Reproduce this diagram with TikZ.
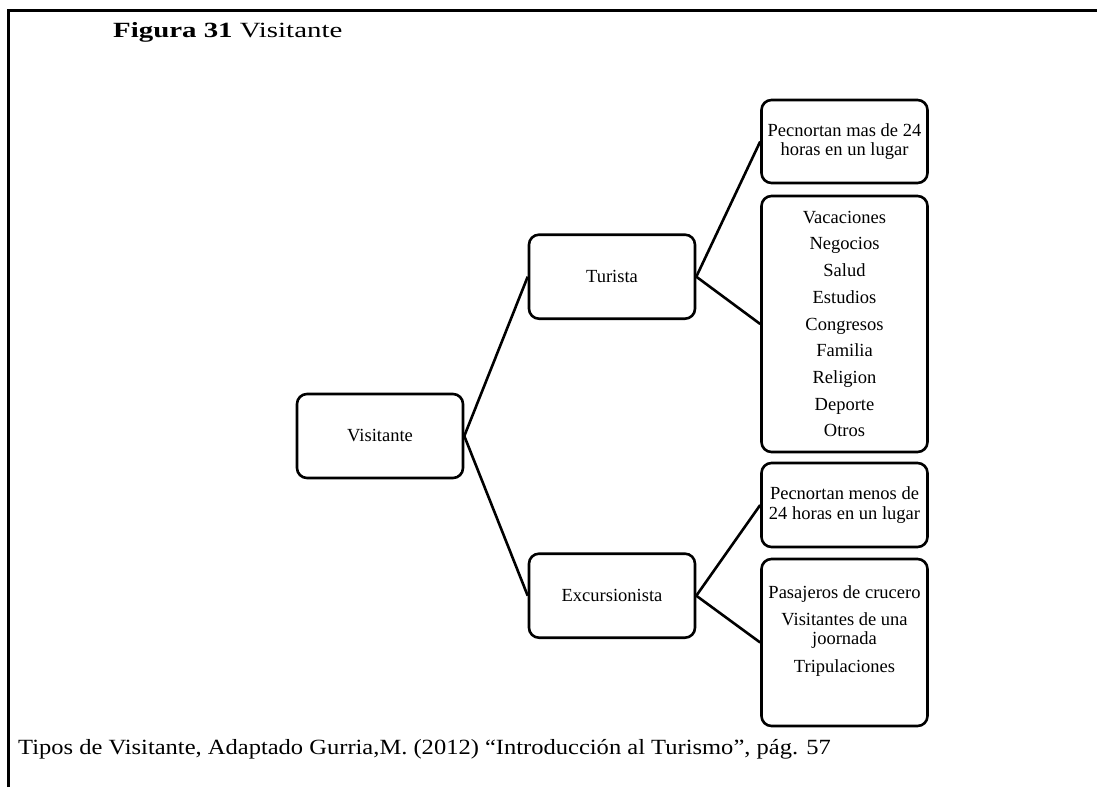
\documentclass[tikz,border=0pt]{standalone}
\usepackage{fontspec}
\setmainfont{Liberation Serif}
\newfontfamily\widefont[FakeStretch=1.33]{Liberation Serif}
\newfontfamily\srcfont[FakeStretch=1.13]{Liberation Serif}
\definecolor{LineClr}{rgb}{0,0,0}

\begin{document}
\begin{tikzpicture}[x=1pt,y=-1pt,
  box/.style={draw=LineClr,line width=2.6pt,rounded corners=10pt,fill=white,
    minimum width=166pt,minimum height=84pt,inner sep=1pt,align=center,
    font=\fontsize{18.5}{19.3}\selectfont},
  link/.style={draw=LineClr,line width=2.6pt},
  captext/.style={anchor=base west,inner sep=0pt,font=\widefont\fontsize{21.7}{24}\selectfont}]

\useasboundingbox (0,0) rectangle (1097,787);
\draw[link,line width=3pt] (8.7,787) -- (8.7,10) -- (1097,10);

\node[captext] (title) at (113,37.7) {\textbf{Figura 31} Visitante};

\node[box] (visit) at (380,436) {Visitante};
\node[box] (tur) at (612,276.7) {Turista};
\node[box] (exc) at (612,595.7) {Excursionista};

\node[box,minimum height=83pt] (turA) at (844.5,141.5) {Pecnortan mas de 24\\horas en un lugar};
\node[box,minimum height=256pt] (turB) at (844.5,324) {Vacaciones\\[7.4pt]Negocios\\[7.4pt]Salud\\[7.4pt]Estudios\\[7.4pt]Congresos\\[7.4pt]Familia\\[7.4pt]Religion\\[7.4pt]Deporte\\[7.4pt]Otros};
\node[box] (excA) at (844.5,505) {Pecnortan menos de\\24 horas en un lugar};
\node[box,minimum height=167pt] (excB) at (844.5,642.5) {Pasajeros de crucero\\[8pt]Visitantes de una\\joornada\\[8pt]Tripulaciones\\[8pt]\mbox{}};

\draw[link] (visit.east) -- (tur.west);
\draw[link] (visit.east) -- (exc.west);
\draw[link] (tur.east) -- (turA.west);
\draw[link] (tur.east) -- (turB.west);
\draw[link] (exc.east) -- (excA.west);
\draw[link] (exc.east) -- (excB.west);

\node[captext,font=\srcfont\fontsize{21.7}{24}\selectfont] (source) at (18,754) {Tipos de Visitante, Adaptado Gurria,M. (2012) “Introducción al Turismo”, pág. 57};

\end{tikzpicture}
\end{document}
